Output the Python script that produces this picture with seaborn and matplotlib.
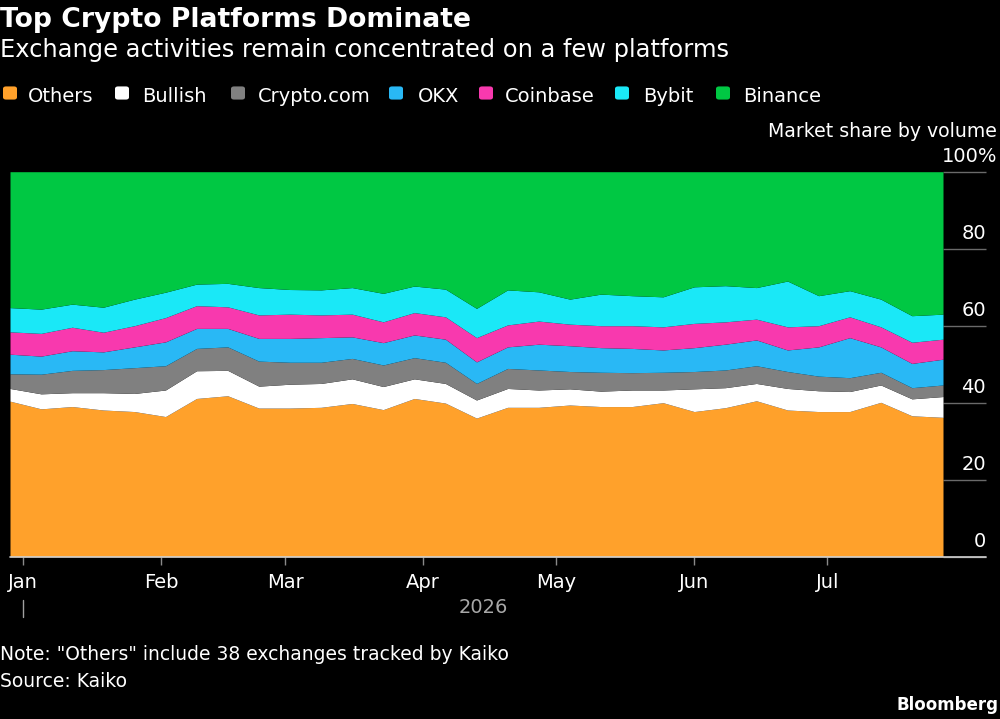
import numpy as np
import pandas as pd
import matplotlib
matplotlib.use("Agg")
import matplotlib.pyplot as plt
import matplotlib.dates as mdates
import matplotlib.transforms as mtransforms
from matplotlib.patches import FancyBboxPatch
import seaborn as sns

# ---------------- data (weekly market share by volume, %) ----------------
dates = pd.date_range("2025-12-29", periods=31, freq="7D")

others = [40.4, 38.4, 39.0, 38.1, 37.7, 36.4, 41.1, 41.8, 38.6, 38.6, 38.8,
          39.8, 38.2, 41.1, 39.9, 36.0, 38.8, 38.8, 39.4, 39.0, 39.0, 40.0,
          37.7, 38.7, 40.5, 38.1, 37.7, 37.7, 40.1, 36.6, 36.2]
bullish = [3.3, 3.9, 3.6, 4.5, 4.7, 6.9, 7.2, 6.6, 5.7, 6.2, 6.2, 6.4, 6.0,
           5.1, 5.1, 4.7, 4.9, 4.5, 4.2, 4.0, 4.3, 3.3, 5.9, 5.2, 4.5, 5.6,
           5.4, 5.2, 4.5, 4.4, 5.4]
cryptocom = [3.8, 5.1, 5.8, 6.0, 6.7, 6.3, 5.8, 6.1, 6.5, 5.7, 5.5, 5.3, 5.6,
             5.5, 5.5, 4.3, 5.2, 5.2, 4.5, 4.9, 4.5, 4.6, 4.5, 4.6, 4.6, 4.4,
             3.8, 3.6, 3.3, 2.9, 3.0]
okx = [5.1, 4.7, 5.1, 4.6, 5.4, 6.2, 5.2, 4.8, 5.9, 6.2, 6.4, 5.6, 5.8, 5.9,
       6.0, 5.6, 5.6, 6.7, 6.7, 6.4, 6.3, 5.8, 6.2, 6.7, 6.7, 5.6, 7.6, 10.4,
       6.6, 6.3, 6.7]
coinbase = [5.8, 5.9, 6.1, 5.1, 5.5, 6.3, 5.9, 5.6, 6.1, 6.3, 5.9, 5.9, 5.4,
            5.8, 5.8, 6.3, 5.7, 6.0, 5.6, 5.7, 5.9, 6.0, 6.3, 5.8, 5.4, 6.0,
            5.5, 5.4, 5.2, 5.5, 5.2]
bybit = [6.3, 6.3, 6.0, 6.5, 6.9, 6.6, 5.6, 6.1, 7.1, 6.4, 6.5, 6.9, 7.4, 6.9,
         7.2, 7.6, 9.1, 7.6, 6.5, 8.2, 7.8, 7.8, 9.5, 9.4, 8.2, 11.9, 7.8, 6.8,
         7.2, 6.9, 6.5]
binance = [35.3, 35.7, 34.4, 35.2, 33.1, 31.3, 29.2, 29.0, 30.1, 30.6, 30.7,
           30.1, 31.6, 29.7, 30.5, 35.5, 30.7, 31.2, 33.1, 31.8, 32.2, 32.5,
           29.9, 29.6, 30.1, 28.4, 32.2, 30.9, 33.1, 37.4, 37.0]

series_names = ["Others", "Bullish", "Crypto.com", "OKX", "Coinbase", "Bybit", "Binance"]
series_values = [others, bullish, cryptocom, okx, coinbase, bybit, binance]
y_ticks = [0, 20, 40, 60, 80, 100]
y_tick_labels = ["0", "20", "40", "60", "80", "100%"]
month_ticks = pd.date_range("2026-01-01", periods=7, freq="MS")

# ---------------- style ----------------
colors = ["#FFA12B", "#FFFFFF", "#808080", "#29B8F5", "#F839AE", "#1AE8F7", "#00C843"]
sns.set_theme(style="dark")
FONT = ["DejaVu Sans"]
plt.rcParams["font.family"] = FONT
plt.rcParams["axes.facecolor"] = "black"
plt.rcParams["figure.facecolor"] = "black"
plt.rcParams["savefig.facecolor"] = "black"

W, H = 1000, 719
fig = plt.figure(figsize=(W / 100, H / 100), dpi=100)

def fx(px):
    return px / W

def fy(py):
    return 1 - py / H

ax_l, ax_r, ax_t, ax_b = 10, 943, 171.7, 556.7
ax = fig.add_axes([fx(ax_l), fy(ax_b), fx(ax_r - ax_l), (ax_b - ax_t) / H])
ax.set_facecolor("black")

ax.stackplot(dates, *series_values, colors=colors, linewidth=0, antialiased=True)
ax.set_xlim(dates[0], dates[-1])
ax.set_ylim(0, 100)
ax.grid(False)
for s in ax.spines.values():
    s.set_visible(False)

# y-axis: ticks on the right, labels drawn above the tick lines
ax.set_yticks(y_ticks)
ax.yaxis.tick_right()
ax.tick_params(axis="y", which="both", length=31, width=1.0, color="#6a6a6a",
               labelright=False, labelleft=False, direction="out", pad=0)
for v, lab in zip(y_ticks, y_tick_labels):
    off = mtransforms.offset_copy(ax.get_yaxis_transform(), fig=fig, x=0,
                                  y=9.5 * 0.72, units="points")
    right_px = 997 if lab.endswith("%") else 986
    ax.text(1 + (right_px - ax_r) / (ax_r - ax_l), v, lab, transform=off, ha="right",
            va="baseline", color="white", fontsize=14)

# bottom axis line extending under the right tick labels
ax.plot([0, (986 - ax_l) / (ax_r - ax_l)], [0, 0], transform=ax.transAxes,
        color="#d0d0d0", lw=1.2, clip_on=False, zorder=5)

# x-axis month ticks
ax.set_xticks(month_ticks)
ax.xaxis.set_major_formatter(mdates.DateFormatter("%b"))
ax.tick_params(axis="x", which="both", length=6, width=1.0, color="#8a8a8a",
               labelcolor="white", labelsize=14, pad=6, bottom=True)

# year marker and label
xtr = ax.get_xaxis_transform()
year_start = mdates.date2num(pd.Timestamp("2026-01-01"))
ax.plot([year_start, year_start], [-(600 - ax_b) / (ax_b - ax_t), -(617 - ax_b) / (ax_b - ax_t)],
        transform=xtr, color="#a0a0a0", lw=1.0, clip_on=False)
year_mid = (year_start + mdates.date2num(dates[-1])) / 2
ax.text(year_mid, -(613 - ax_b) / (ax_b - ax_t), "2026", transform=xtr, ha="center",
        va="baseline", color="#a8a8a8", fontsize=14)

# ---------------- titles ----------------
fig.text(fx(0), fy(26.7), "Top Crypto Platforms Dominate", color="white",
         fontsize=19.2, fontweight="bold", ha="left", va="baseline")
fig.text(fx(0), fy(56.7), "Exchange activities remain concentrated on a few platforms",
         color="white", fontsize=17.4, ha="left", va="baseline")

# legend
sq_x = [3, 115, 231, 389, 479, 615, 716]
lab_x = [28, 142, 258, 418, 505, 643, 743]
for name, c, sx, lx in zip(series_names, colors, sq_x, lab_x):
    p = FancyBboxPatch((fx(sx + 1.5), fy(100 - 1.5)), fx(11), 11 / H,
                       boxstyle="round,pad=0.0015,rounding_size=0.003",
                       transform=fig.transFigure, facecolor=c, edgecolor="none")
    fig.patches.append(p)
    fig.text(fx(lx), fy(101.7), name, color="white", fontsize=14,
             ha="left", va="baseline")

fig.text(fx(997), fy(136.7), "Market share by volume", color="white", fontsize=13.6,
         ha="right", va="baseline")

# ---------------- footer ----------------
fig.text(fx(0), fy(660), 'Note: "Others" include 38 exchanges tracked by Kaiko',
         color="white", fontsize=13.5, ha="left", va="baseline")
fig.text(fx(0), fy(686.7), "Source: Kaiko", color="white", fontsize=13.5,
         ha="left", va="baseline")
fig.text(fx(998), fy(710), "Bloomberg", color="white", fontsize=12,
         fontweight="bold", ha="right", va="baseline")

fig.savefig("out.png", dpi=100, facecolor="black")
